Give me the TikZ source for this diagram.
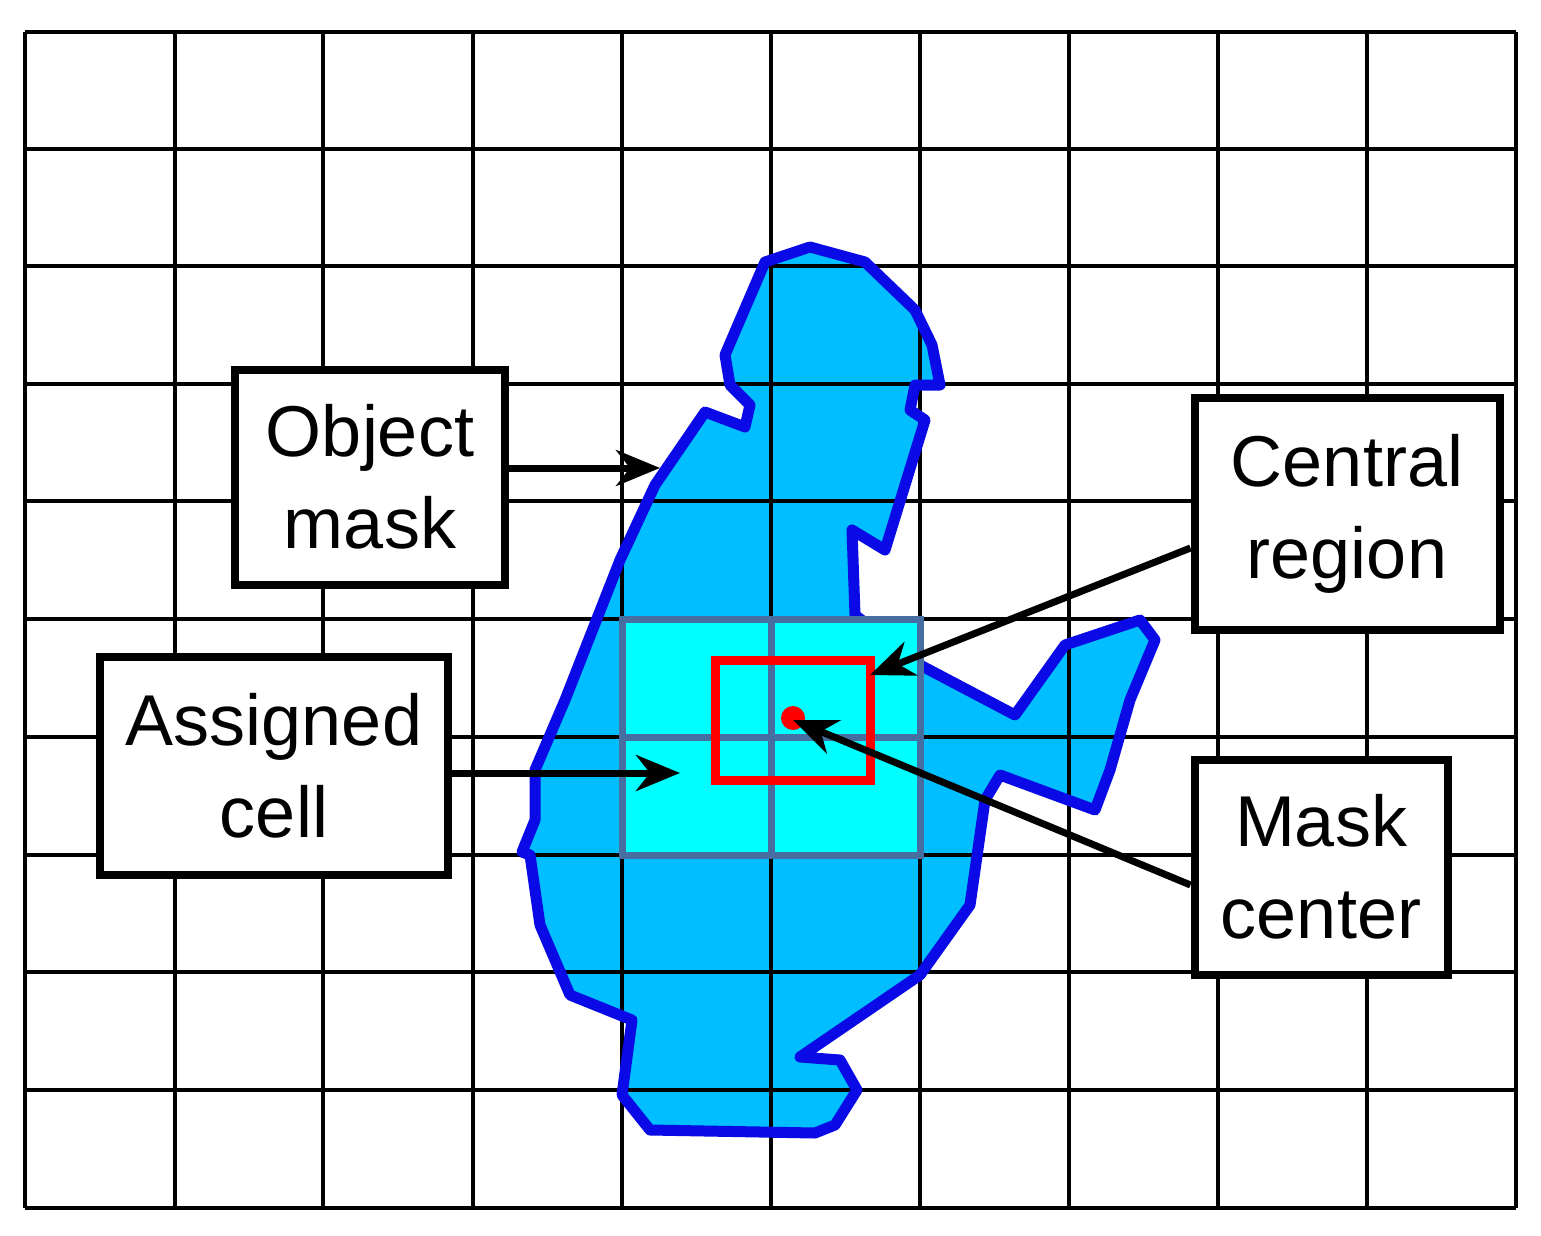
\documentclass[tikz,border=0pt]{standalone}
\usepackage{fontspec}
\setmainfont{Liberation Sans}
\usetikzlibrary{arrows.meta}
\definecolor{cellcyan}{RGB}{0,255,255}
\definecolor{blobfill}{RGB}{0,190,255}
\definecolor{blobline}{RGB}{10,10,230}
\definecolor{cellline}{RGB}{70,110,160}
\begin{document}
\begin{tikzpicture}[x=1pt,y=-1pt,
  lbl/.style={draw=black,line width=8pt,fill=white,font=\fontsize{72}{92}\selectfont,align=center,inner sep=0pt},
  arr/.style={line width=7pt,-{Stealth[length=44pt,width=36pt,inset=14pt]}}]
\useasboundingbox (0,0) rectangle (1541,1236);
\fill[white] (0,0) rectangle (1541,1236);
\def\blob{(765,262)--(810,247)--(865,262)--(915,310)--(932,345)--(940,385)--(915,385)--(910,410)--(925,420)--(885,550)--(852,530)--(855,615)
 --(920,665)--(1015,715)--(1065,645)--(1140,620)--(1155,640)--(1130,700)--(1110,770)--(1095,810)--(1000,775)--(985,800)--(970,905)
 --(920,975)--(800,1057)--(840,1060)--(857,1090)--(835,1125)--(815,1133)--(650,1130)--(622,1095)--(632,1020)--(570,995)--(540,925)
 --(530,855)--(522,852)--(535,820)--(535,770)--(565,700)--(620,560)--(655,485)--(705,412)--(745,427)--(750,405)--(730,385)--(725,355)--(740,320)--cycle}
% grid
\foreach \x in {25,175,323,473,622,771,920,1069,1218,1367,1516} \draw[line width=3.5pt] (\x,32) -- (\x,1208);
\foreach \y in {32,149,266,384,501,619,737,855,972,1090,1208} \draw[line width=3.5pt] (25,\y) -- (1516,\y);
% blob
\fill[blobfill] \blob;
\begin{scope}
\clip \blob;
\foreach \x in {622,771,920,1069} \draw[line width=3.5pt] (\x,32) -- (\x,1208);
\foreach \y in {266,384,501,619,737,855,972,1090} \draw[line width=3.5pt] (25,\y) -- (1516,\y);
\end{scope}
\draw[line width=11pt,draw=blobline,line join=round] \blob;
% cells
\fill[cellcyan] (622,619) rectangle (920,855);
\draw[line width=7pt,draw=cellline] (622,619) rectangle (920,855) (771,619)--(771,855) (622,737)--(920,737);
% central region
\draw[red,line width=9pt] (715,660) rectangle (870,780);
\fill[red] (793,718) circle (12);
% labels
\node[lbl,minimum width=270pt,minimum height=215pt] (om) at (370,477) {Object\\mask};
\node[lbl,minimum width=348pt,minimum height=218pt] (ac) at (274,766) {Assigned\\cell};
\node[lbl,minimum width=305pt,minimum height=232pt] (cr) at (1347,514) {Central\\region};
\node[lbl,minimum width=253pt,minimum height=215pt] (mc) at (1321,867) {Mask\\center};
\coordinate (omt) at (660,468);
\coordinate (act) at (680,773);
\coordinate (crt) at (870,675);
\coordinate (mct) at (793,720);
\draw[arr] (om.east|-omt) -- (omt);
\draw[arr] (ac.east|-act) -- (act);
\draw[arr] (cr.west|-0,548) -- (crt);
\draw[arr] (mc.west|-0,885) -- (mct);
\end{tikzpicture}
\end{document}
